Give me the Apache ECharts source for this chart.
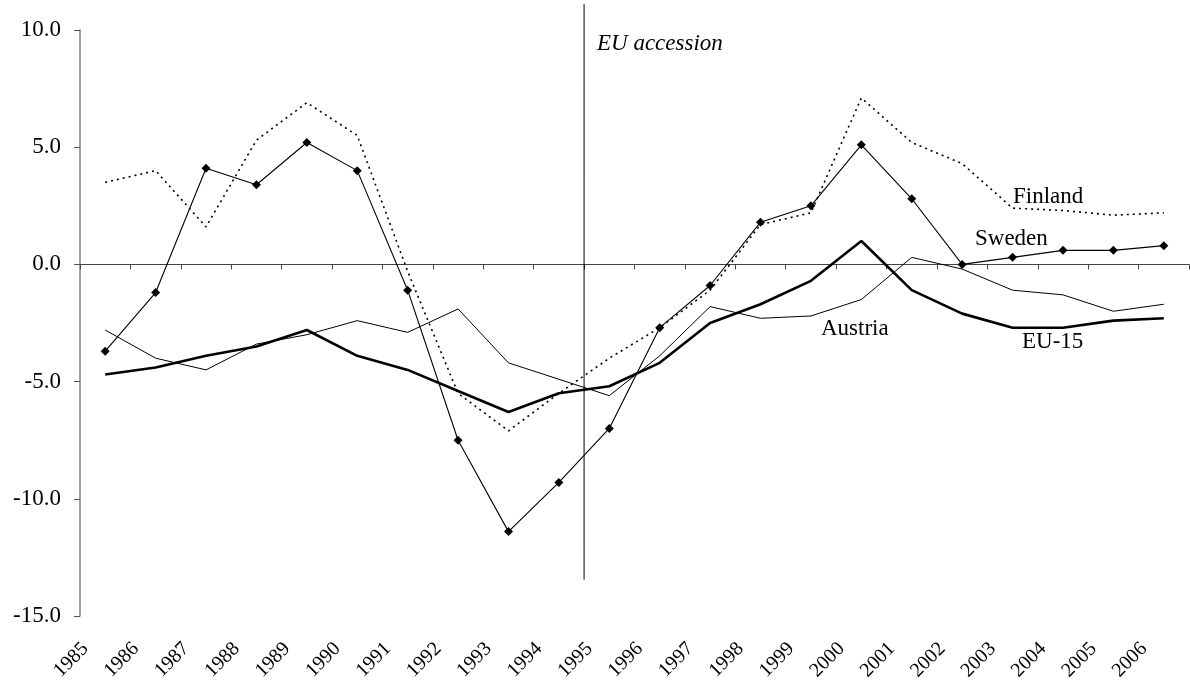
<!DOCTYPE html>
<html>
<head>
<meta charset="utf-8">
<script src="https://cdn.jsdelivr.net/npm/echarts@6/dist/echarts.min.js"></script>
<style>
  html, body { margin: 0; padding: 0; background: #fff; }
  #chart { width: 1190px; height: 681px; }
</style>
</head>
<body>
<div id="chart"></div>
<script>
// Years on the category axis
const years = ['1985', '1986', '1987', '1988', '1989', '1990', '1991', '1992', '1993', '1994', '1995',
  '1996', '1997', '1998', '1999', '2000', '2001', '2002', '2003', '2004', '2005', '2006'];

// Values
const finland = [3.5, 4.0, 1.6, 5.3, 6.9, 5.5, -0.3, -5.5, -7.1, -5.5, -4.0,
  -2.7, -1.1, 1.7, 2.2, 7.1, 5.2, 4.3, 2.4, 2.3, 2.1, 2.2];
const sweden = [-3.7, -1.2, 4.1, 3.4, 5.2, 4.0, -1.1, -7.5, -11.4, -9.3, -7.0,
  -2.7, -0.9, 1.8, 2.5, 5.1, 2.8, 0.0, 0.3, 0.6, 0.6, 0.8];
const austria = [-2.8, -4.0, -4.5, -3.4, -3.0, -2.4, -2.9, -1.9, -4.2, -4.9, -5.6,
  -3.9, -1.8, -2.3, -2.2, -1.5, 0.3, -0.2, -1.1, -1.3, -2.0, -1.7];
const eu15 = [-4.7, -4.4, -3.9, -3.5, -2.8, -3.9, -4.5, -5.4, -6.3, -5.5, -5.2,
  -4.2, -2.5, -1.7, -0.7, 1.0, -1.1, -2.1, -2.7, -2.7, -2.4, -2.3];

// EU accession marker: boundary between 1994 and 1995, and its vertical span
const accessionAt = 10;
const accessionSpan = [11.1, -13.45];

const serif = '"Liberation Serif", "DejaVu Serif", serif';

const chart = echarts.init(document.getElementById('chart'));

// series name labels placed next to the lines
const nameLabel = (text, left, top, italic) => ({
  type: 'text',
  left: left,
  top: top,
  style: { text: text, font: (italic ? 'italic ' : '') + '23px ' + serif, fill: '#000' }
});

const option = {
  backgroundColor: '#ffffff',
  animation: false,
  grid: { left: 80, right: 1, top: 30, bottom: 65, containLabel: false, outerBoundsMode: 'none' },
  xAxis: [
    {
      // zero line with ticks at category boundaries
      type: 'category',
      data: years,
      boundaryGap: true,
      axisLine: { onZero: true, lineStyle: { color: '#444', width: 1 } },
      axisTick: { show: true, length: 5, lineStyle: { color: '#444' } },
      axisLabel: { show: false },
      splitLine: { show: false }
    },
    {
      // year labels along the bottom
      type: 'category',
      data: years,
      boundaryGap: true,
      position: 'bottom',
      axisLine: { show: false, onZero: false },
      axisTick: { show: false },
      axisLabel: {
        rotate: 45,
        margin: 10,
        padding: [0, 28, 0, 0],
        interval: 0,
        color: '#000',
        fontFamily: serif,
        fontSize: 20
      }
    },
    {
      // hidden linear axis for the accession line
      type: 'value',
      min: 0,
      max: years.length,
      show: false
    }
  ],
  yAxis: {
    type: 'value',
    min: -15,
    max: 10,
    interval: 5,
    axisLine: { show: true, lineStyle: { color: '#808080', width: 1.5 } },
    axisTick: { show: true, length: 6, lineStyle: { color: '#555' } },
    axisLabel: {
      margin: 19,
      color: '#000',
      fontFamily: serif,
      fontSize: 23,
      formatter: v => v.toFixed(1)
    },
    splitLine: { show: false }
  },
  series: [
    {
      name: 'Finland',
      type: 'line',
      data: finland,
      symbol: 'none',
      lineStyle: { color: '#000', width: 1.6, type: [2, 4] }
    },
    {
      name: 'Austria',
      type: 'line',
      data: austria,
      symbol: 'none',
      lineStyle: { color: '#000', width: 1 }
    },
    {
      name: 'EU-15',
      type: 'line',
      data: eu15,
      symbol: 'none',
      lineStyle: { color: '#000', width: 2.6 }
    },
    {
      name: 'Sweden',
      type: 'line',
      data: sweden,
      symbol: 'path://M0,-1L1,0L0,1L-1,0Z',
      symbolSize: 9,
      itemStyle: { color: '#000' },
      lineStyle: { color: '#000', width: 1.1 }
    },
    {
      name: 'EU accession',
      type: 'line',
      xAxisIndex: 2,
      clip: false,
      symbol: 'none',
      data: accessionSpan.map(v => [accessionAt, v]),
      lineStyle: { color: '#000', width: 1 }
    }
  ],
  graphic: [
    nameLabel('EU accession', 597, 32, true),
    nameLabel('Finland', 1013, 185),
    nameLabel('Sweden', 975, 227),
    nameLabel('Austria', 821, 317),
    nameLabel('EU-15', 1022, 330)
  ]
};

chart.setOption(option);
window.addEventListener('resize', () => chart.resize());
</script>
</body>
</html>
